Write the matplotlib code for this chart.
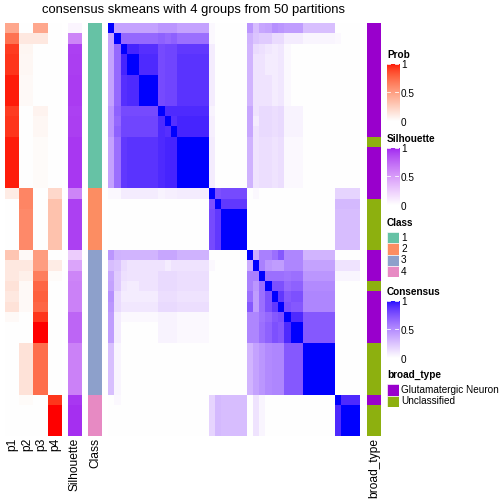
import numpy as np
import matplotlib
matplotlib.use('Agg')
import matplotlib.pyplot as plt
from matplotlib.colors import ListedColormap, to_rgb
from matplotlib.patches import Rectangle

plt.rcParams['font.family'] = ['Liberation Sans', 'DejaVu Sans']

title = "consensus skmeans with 4 groups from 50 partitions"

# membership probabilities per sample (rows in heatmap order)
p1 = [.45, .70, .90, .92, .92, .97, .97, .97, .90, .92, .92, .97, .97, .97, .97, .97,
      .10, 0, 0, 0, 0, 0,
      .30, .12, .12, .15, .12, .15, .03, 0, 0, 0, 0, 0, 0, 0,
      0, 0, 0, 0]
p2 = [0, .12, .05, .04, .04, .03, .03, .03, 0, 0, 0, 0, 0, 0, 0, 0,
      .62, .62, .60, .60, .60, .60,
      .03, .12, .08, .03, .03, .03, 0, 0, 0, .15, .15, .15, .15, .15,
      .02, 0, 0, 0]
p3 = [.45, .12, 0, 0, 0, 0, 0, 0, .06, .04, .04, .02, .02, .02, .02, .02,
      0, 0, 0, 0, 0, 0,
      .50, .50, .65, .75, .78, .75, .92, 1.0, 1.0, .72, .72, .72, .72, .72,
      0, 0, 0, 0]
p4 = [0, 0, 0, 0, 0, 0, 0, 0, 0, 0, 0, 0, 0, 0, 0, 0,
      .20, .32, .32, .32, .32, .32,
      0, .10, .02, 0, 0, 0, 0, 0, 0, 0, 0, 0, 0, 0,
      .92, 1.0, 1.0, 1.0]
silhouette = [.05, .60, .90, .91, .91, .92, .92, .92, .90, .91, .91, .93, .93, .93, .93, .93,
              .60, .90, .90, .90, .90, .90,
              .25, .45, .60, .62, .62, .62, .75, .75, .75, .62, .62, .62, .62, .62,
              .93, .96, .96, .96]
class_id = [1] * 16 + [2] * 6 + [3] * 14 + [4] * 4
broad_type = (['Glutamatergic Neuron'] * 11 + ['Unclassified'] + ['Glutamatergic Neuron'] * 5 +
              ['Unclassified'] * 5 + ['Glutamatergic Neuron'] * 3 + ['Unclassified'] +
              ['Glutamatergic Neuron'] * 5 + ['Unclassified'] * 5 + ['Glutamatergic Neuron'] +
              ['Unclassified'] * 3)

# consensus matrix: samples fall in sub-blocks, block values below
cons_group = [0, 1, 2, 3, 3, 4, 4, 4, 5, 6, 7, 8, 8, 8, 8, 8,
              9, 10, 11, 11, 11, 11,
              12, 13, 14, 15, 16, 17, 18, 19, 19, 20, 20, 20, 20, 20,
              21, 22, 22, 22]
cons_block = [
    [1.00, .40, .40, .40, .40, .45, .45, .45, .40, .03, 0, 0, .45, .28, .38, .40, .48, .45, .42, .42, .27, 0, 0],
    [.40, 1.00, .65, .65, .65, .68, .65, .68, .62, .03, 0, 0, .33, .25, .22, .22, .15, .15, .08, .08, .04, .03, 0],
    [.40, .65, 1.00, .92, .88, .78, .80, .80, .85, .08, 0, 0, .32, .15, .13, .10, .08, .10, .03, 0, 0, 0, 0],
    [.40, .65, .92, 1.00, .90, .78, .80, .80, .87, .08, 0, 0, .32, .12, .12, .08, .08, .10, .03, 0, 0, 0, 0],
    [.40, .65, .88, .90, 1.00, .78, .80, .80, .87, .08, 0, 0, .32, .12, .12, .12, .08, .10, .03, 0, 0, 0, 0],
    [.45, .68, .78, .78, .78, 1.00, .90, .90, .90, .05, 0, 0, .38, .12, .16, .16, .14, .16, .05, .05, 0, 0, 0],
    [.45, .65, .80, .80, .80, .90, 1.00, .88, .92, .07, 0, 0, .38, .08, .16, .16, .14, .16, .05, .05, 0, 0, 0],
    [.45, .68, .80, .80, .80, .90, .88, 1.00, .92, .07, 0, 0, .38, .12, .16, .16, .14, .16, .05, .05, 0, 0, 0],
    [.40, .62, .85, .87, .87, .90, .92, .92, 1.00, .08, 0, 0, .33, .12, .14, .14, .12, .14, .03, .03, 0, 0, 0],
    [.03, .03, .08, .08, .08, .05, .07, .07, .08, 1.00, .75, .78, 0, .03, 0, 0, 0, 0, 0, 0, 0, .18, .18],
    [0, 0, 0, 0, 0, 0, 0, 0, 0, .75, 1.00, .85, 0, 0, 0, 0, 0, 0, 0, 0, 0, .30, .30],
    [0, 0, 0, 0, 0, 0, 0, 0, 0, .78, .85, 1.00, 0, 0, 0, 0, 0, 0, 0, 0, 0, .28, .28],
    [.45, .33, .32, .32, .32, .38, .38, .38, .33, 0, 0, 0, 1.00, .35, .55, .55, .62, .72, .52, .52, .32, 0, 0],
    [.28, .25, .15, .12, .12, .12, .08, .12, .12, .03, 0, 0, .35, 1.00, .55, .45, .42, .42, .52, .52, .40, .12, .12],
    [.38, .22, .13, .12, .12, .16, .16, .16, .14, 0, 0, 0, .55, .55, 1.00, .62, .62, .62, .60, .62, .45, .04, .04],
    [.40, .22, .10, .08, .12, .16, .16, .16, .14, 0, 0, 0, .55, .45, .62, 1.00, .75, .75, .65, .68, .50, 0, 0],
    [.48, .15, .08, .08, .08, .14, .14, .14, .12, 0, 0, 0, .62, .42, .62, .75, 1.00, .85, .72, .75, .52, 0, 0],
    [.45, .15, .10, .10, .10, .16, .16, .16, .14, 0, 0, 0, .72, .42, .62, .75, .85, 1.00, .75, .72, .52, 0, 0],
    [.42, .08, .03, .03, .03, .05, .05, .05, .03, 0, 0, 0, .52, .52, .60, .65, .72, .75, 1.00, .90, .72, 0, 0],
    [.42, .08, 0, 0, 0, .05, .05, .05, .03, 0, 0, 0, .52, .52, .62, .68, .75, .72, .90, 1.00, .72, 0, 0],
    [.27, .04, 0, 0, 0, 0, 0, 0, 0, 0, 0, 0, .32, .40, .45, .50, .52, .52, .72, .72, 1.00, 0, 0],
    [0, .03, 0, 0, 0, 0, 0, 0, 0, .18, .30, .28, 0, .12, .04, 0, 0, 0, 0, 0, 0, 1.00, .90],
    [0, 0, 0, 0, 0, 0, 0, 0, 0, .18, .30, .28, 0, .12, .04, 0, 0, 0, 0, 0, 0, .90, 1.00],
]

class_colors = ['#66C2A5', '#FC8D62', '#8DA0CB', '#E78AC3']
broad_levels = ['Glutamatergic Neuron', 'Unclassified']
broad_colors = ['#9900CC', '#8DB00F']


# white -> colour ramp interpolated in LAB space (like colorRamp2)
def lab_ramp(color, n=256):
    Mf = np.array([[0.4124, 0.3576, 0.1805], [0.2126, 0.7152, 0.0722], [0.0193, 0.1192, 0.9505]])
    Mi = np.linalg.inv(Mf)
    wn = np.array([0.95047, 1.0, 1.08883])

    def to_lab(rgb):
        c = np.array(rgb)
        lin = np.where(c <= 0.04045, c / 12.92, ((c + 0.055) / 1.055) ** 2.4)
        xyz = Mf @ lin / wn
        f = np.where(xyz > 0.008856, np.cbrt(xyz), 7.787 * xyz + 16 / 116)
        return np.array([116 * f[1] - 16, 500 * (f[0] - f[1]), 200 * (f[1] - f[2])])

    l0, l1 = to_lab((1, 1, 1)), to_lab(to_rgb(color))
    t = np.linspace(0, 1, n)[:, None]
    lab = l0 + (l1 - l0) * t
    fy = (lab[:, 0] + 16) / 116
    fx = fy + lab[:, 1] / 500
    fz = fy - lab[:, 2] / 200
    f = np.stack([fx, fy, fz], axis=1)
    xyz = np.where(f ** 3 > 0.008856, f ** 3, (f - 16 / 116) / 7.787) * wn
    lin = np.clip(xyz @ Mi.T, 0, 1)
    srgb = np.where(lin <= 0.0031308, 12.92 * lin, 1.055 * lin ** (1 / 2.4) - 0.055)
    return ListedColormap(np.clip(srgb, 0, 1))


prob_cmap = lab_ramp('red')
sil_cmap = lab_ramp('#A020F0')
cons_cmap = lab_ramp('blue')

W = H = 504
fig = plt.figure(figsize=(7, 7), dpi=72)


def px_axes(x0, y0, x1, y1):
    ax = fig.add_axes([x0 / W, 1 - y1 / H, (x1 - x0) / W, (y1 - y0) / H])
    ax.set_axis_off()
    return ax


def px_text(x, y, s, **kw):
    fig.text(x / W, 1 - y / H, s, **kw)


top, bottom = 23, 436

# probability columns
ax = px_axes(5, top, 62, bottom)
ax.imshow(np.array([p1, p2, p3, p4]).T, cmap=prob_cmap, vmin=0, vmax=1,
          aspect='auto', interpolation='nearest')

ax = px_axes(68, top, 82, bottom)
ax.imshow(np.array(silhouette)[:, None], cmap=sil_cmap, vmin=0, vmax=1,
          aspect='auto', interpolation='nearest')

ax = px_axes(88, top, 102, bottom)
ax.imshow(np.array(class_id)[:, None] - 1, cmap=ListedColormap(class_colors), vmin=-0.5, vmax=3.5,
          aspect='auto', interpolation='nearest')

# consensus heatmap
B = np.array(cons_block)
B = (B + B.T) / 2
g = np.array(cons_group)
cons = B[np.ix_(g, g)]
ax = px_axes(108, top, 360, bottom)
ax.imshow(cons, cmap=cons_cmap, vmin=0, vmax=1, aspect='auto', interpolation='nearest')

ax = px_axes(367, top, 381, bottom)
bt = np.array([broad_levels.index(b) for b in broad_type])[:, None]
ax.imshow(bt, cmap=ListedColormap(broad_colors), vmin=-0.5, vmax=1.5,
          aspect='auto', interpolation='nearest')

# title and annotation names
px_text(193, 13.5, title, ha='center', va='baseline', fontsize=13)
for cx, name in [(12.5, 'p1'), (27, 'p2'), (41, 'p3'), (55, 'p4'),
                 (75, 'Silhouette'), (95, 'Class'), (374, 'broad_type')]:
    px_text(cx, 438, name, rotation=90, ha='center', va='top', fontsize=12)

# legends
lx0, lx1 = 386.5, 398.5


def color_legend(name, cmap, base):
    px_text(387, base, name, fontsize=10, fontweight='bold', va='baseline')
    y_hi, y_lo = base + 5.8, base + 63.7
    ax = px_axes(lx0, y_hi, lx1, y_lo)
    ax.imshow(np.linspace(1, 0, 256)[:, None], cmap=cmap, vmin=0, vmax=1,
              aspect='auto', extent=[0, 1, 0, 1])
    ax.set_xlim(0, 1)
    ax.set_ylim(0, 1)
    for v in [0.985, 0.5]:
        ax.plot([0, 0.25], [v, v], color='white', lw=0.8)
        ax.plot([0.7, 1], [v, v], color='white', lw=0.8)
    for v, lab in [(1, '1'), (0.5, '0.5'), (0, '0')]:
        px_text(401, y_hi + (1 - v) * (y_lo - y_hi) + 4.5, lab, fontsize=10, va='baseline')


def box_legend(name, labels, colors, base):
    px_text(387, base, name, fontsize=10, fontweight='bold', va='baseline')
    ax = px_axes(lx0, base + 6, lx1, base + 6 + 11.3 * len(labels))
    ax.set_xlim(0, 1)
    ax.set_ylim(len(labels), 0)
    for i, (lab, c) in enumerate(zip(labels, colors)):
        ax.add_patch(Rectangle((0, i), 1, 1, facecolor=c, edgecolor='white', lw=0.6))
        px_text(401, base + 6 + 11.3 * i + 5.65, lab, fontsize=10, va='center')


color_legend('Prob', prob_cmap, 57.7)
color_legend('Silhouette', sil_cmap, 141.7)
box_legend('Class', ['1', '2', '3', '4'], class_colors, 226)
color_legend('Consensus', cons_cmap, 294.7)
box_legend('broad_type', broad_levels, broad_colors, 378.3)

fig.savefig('out.png', dpi=72)
